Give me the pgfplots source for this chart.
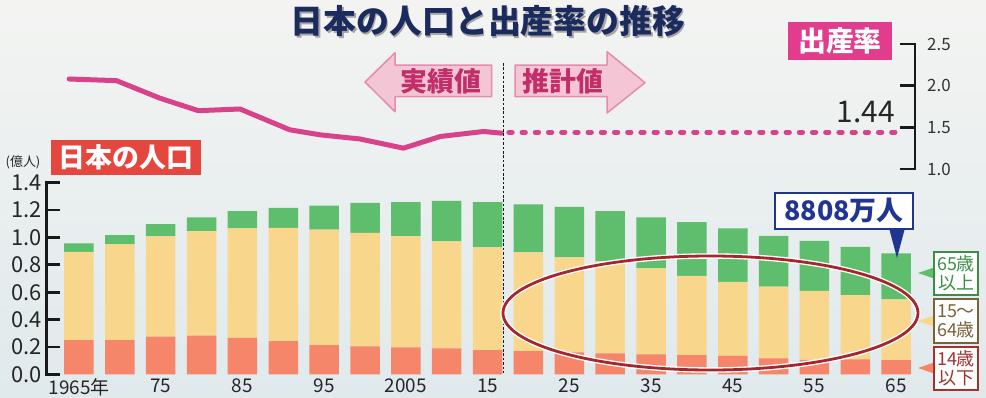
\documentclass[border=0pt]{standalone}
\usepackage{pgfplots}
\pgfplotsset{compat=1.18}
\usepackage{fontspec}
\setmainfont{Noto Sans CJK JP}
\definecolor{bgtop}{HTML}{F3F4F2}
\definecolor{bgbot}{HTML}{E0E9EC}
\definecolor{cred}{HTML}{F5866A}
\definecolor{cyel}{HTML}{F8D68C}
\definecolor{cgrn}{HTML}{5FBE6D}
\definecolor{cline}{HTML}{D8428A}
\definecolor{navy}{HTML}{1C2B5E}
\definecolor{pinkbox}{HTML}{E23D8C}
\definecolor{redbox}{HTML}{E5463E}
\definecolor{arrfill}{HTML}{F3C5D5}
\definecolor{arrdraw}{HTML}{E48BAE}
\definecolor{arrtext}{HTML}{C22E68}
\definecolor{calnavy}{HTML}{1F3590}
\definecolor{ellred}{HTML}{A5262F}
\definecolor{lgreen}{HTML}{3C8E46}
\definecolor{lbrown}{HTML}{7A6238}
\definecolor{lred}{HTML}{A3322C}
\begin{document}
\begin{tikzpicture}[x=1bp,y=1bp]
\shade[top color=bgtop,bottom color=bgbot] (0,0) rectangle (986,397);

% population bars
\begin{axis}[
  at={(46.7bp,22.7bp)}, anchor=south west, scale only axis,
  width=868.3bp, height=191.6bp,
  xmin=1961.05, xmax=2067.3, ymin=0, ymax=1.4,
  axis y line*=left, axis x line*=bottom,
  x axis line style={draw=none},
  xtick={1965,1975,1985,1995,2005,2015,2025,2035,2045,2055,2065},
  xticklabels={1965年,75,85,95,2005,15,25,35,45,55,65},
  xtick style={draw=none},
  ytick={0,0.2,0.4,0.6,0.8,1.0,1.2,1.4},
  yticklabels={0.0,0.2,0.4,0.6,0.8,1.0,1.2,1.4},
  tick align=inside, major tick length=13bp,
  y axis line style={line width=2.7bp, color=black!90, line cap=rect},
  ytick style={line width=2.7bp, color=black!90},
  ybar stacked, bar width=29.5bp,
  yticklabel style={font=\fontsize{22}{22}\selectfont, inner sep=0pt, xshift=-5bp, text=black!85},
  xticklabel style={font=\fontsize{19}{19}\selectfont, inner sep=0pt, yshift=-4bp, anchor=north, text=black!85},
]
\addplot[fill=cred, draw=none] coordinates {
 (1965,0.250) (1970,0.250) (1975,0.275) (1980,0.282) (1985,0.267) (1990,0.243) (1995,0.214)
 (2000,0.204) (2005,0.197) (2010,0.190) (2015,0.177) (2020,0.170) (2025,0.160) (2030,0.153)
 (2035,0.146) (2040,0.141) (2045,0.134) (2050,0.117) (2055,0.104) (2060,0.109) (2065,0.104)};
\addplot[fill=cyel, draw=none] coordinates {
 (1965,0.645) (1970,0.699) (1975,0.732) (1980,0.764) (1985,0.799) (1990,0.827) (1995,0.844)
 (2000,0.830) (2005,0.812) (2010,0.781) (2015,0.750) (2020,0.720) (2025,0.694) (2030,0.672)
 (2035,0.628) (2040,0.579) (2045,0.542) (2050,0.523) (2055,0.506) (2060,0.470) (2065,0.443)};
\addplot[fill=cgrn, draw=none] coordinates {
 (1965,0.061) (1970,0.068) (1975,0.090) (1980,0.100) (1985,0.126) (1990,0.146) (1995,0.175)
 (2000,0.219) (2005,0.249) (2010,0.296) (2015,0.331) (2020,0.351) (2025,0.369) (2030,0.367)
 (2035,0.372) (2040,0.392) (2045,0.390) (2050,0.372) (2055,0.365) (2060,0.353) (2065,0.336)};
\end{axis}

% fertility rate line
\begin{axis}[
  at={(46.7bp,228bp)}, anchor=south west, scale only axis,
  width=868.3bp, height=125bp,
  xmin=1961.05, xmax=2067.3, ymin=1.0, ymax=2.5,
  axis x line=none, axis y line*=right,
  ytick={1.0,1.5,2.0,2.5}, yticklabels={1.0,1.5,2.0,2.5},
  tick align=inside, major tick length=15bp,
  y axis line style={line width=2.5bp, color=black!90, line cap=rect},
  ytick style={line width=2.5bp, color=black!90},
  yticklabel style={font=\fontsize{17}{17}\selectfont, inner sep=0pt, xshift=12bp, text=black!80},
  clip=false,
]
\addplot[mark=none, line width=5bp, color=cline, line join=round, line cap=round] coordinates {
 (1963.8,2.08) (1969.6,2.06) (1974.9,1.85) (1979.6,1.70) (1984.7,1.72) (1990.8,1.47)
 (1994.5,1.41) (1999.4,1.36) (2004.7,1.25) (2009.2,1.39) (2014.5,1.45) (2016.7,1.43)};
\addplot[mark=none, line width=5bp, color=cline, line cap=round, dash pattern=on 3.3bp off 9.9bp] coordinates {
 (2017.6,1.44) (2064.9,1.44)};
\end{axis}

% separator
\draw[black!90, line width=1.4bp, dash pattern=on 2.6bp off 1.8bp] (503.3,334) -- (503.3,24);

% ellipse
\draw[white, line width=5.5bp] (710.5,84) ellipse [x radius=207.5, y radius=57];
\draw[ellred, line width=2.8bp] (710.5,84) ellipse [x radius=207.5, y radius=57];

% title
\node[text=black!35] at (489.5,374) {\fontsize{33}{36}\selectfont\bfseries 日本の人口と出産率の推移};
\node[text=navy] at (488,375.5) {\fontsize{33}{36}\selectfont\bfseries 日本の人口と出産率の推移};

% arrows
\draw[fill=arrfill, draw=arrdraw, line width=1.5bp, line join=round]
  (365,315) -- (395,344.3) -- (395,332) -- (491.7,332) -- (491.7,300.3) -- (395,300.3) -- (395,285.3) -- cycle;
\node[text=arrtext] at (441,315.5) {\fontsize{27}{29}\selectfont\bfseries 実績値};
\draw[fill=arrfill, draw=arrdraw, line width=1.5bp, line join=round]
  (645,314.3) -- (607,345.3) -- (607,332) -- (515,332) -- (515,300.3) -- (607,300.3) -- (607,284) -- cycle;
\node[text=arrtext] at (563,315.5) {\fontsize{27}{29}\selectfont\bfseries 推計値};

% labels
\fill[redbox] (50.7,222) rectangle (201,257);
\node[text=white] at (126,239.5) {\fontsize{27}{29}\selectfont\bfseries 日本の人口};
\node[text=black!85] at (23,234.5) {\fontsize{13}{14}\selectfont (億人)};

\fill[pinkbox] (788,337) rectangle (892,375);
\node[text=white] at (840,356) {\fontsize{28}{30}\selectfont\bfseries 出産率};
\node[anchor=east, text=black!85, inner sep=0pt] at (895,285) {\fontsize{30}{32}\selectfont 1.44};

% callout
\fill[calnavy] (889,169) -- (905,169) -- (897,139) -- cycle;
\draw[calnavy, fill=white, line width=2.5bp] (775,168) rectangle (913,204);
\node[text=calnavy] at (844,186) {\fontsize{27}{29}\selectfont\bfseries 8808万人};

% legend boxes
\tikzset{lgd/.style={align=center, inner sep=0pt, font=\fontsize{18}{19}\selectfont}}
\fill[cgrn] (918,124) -- (934,129.5) -- (934,118.5) -- cycle;
\draw[lgreen, fill=white!90!bgtop, line width=1.8bp] (934,102) rectangle (978,145);
\node[lgd, text=lgreen] at (956,123.5) {65歳\\以上};
\fill[cyel] (918,76) -- (934,81.5) -- (934,70.5) -- cycle;
\draw[lbrown, fill=white!90!bgtop, line width=1.8bp] (934,54) rectangle (978,98);
\node[lgd, text=lbrown] at (956,76) {15〜\\64歳};
\fill[cred] (918,29) -- (934,34.5) -- (934,23.5) -- cycle;
\draw[lred, fill=white!90!bgtop, line width=1.8bp] (934,7) rectangle (978,50);
\node[lgd, text=lred] at (956,28.5) {14歳\\以下};

\pgfresetboundingbox
\path[use as bounding box] (0,0) rectangle (986,397);
\end{tikzpicture}
\end{document}
